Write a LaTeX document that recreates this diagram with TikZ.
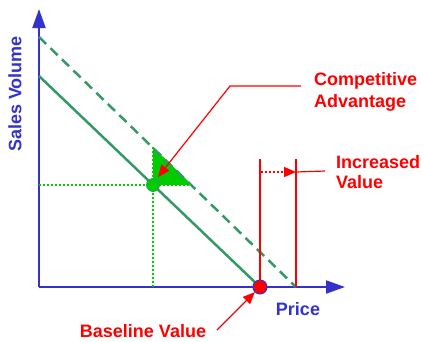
\documentclass[tikz,border=0pt]{standalone}
\usepackage{fontspec}
\setmainfont{Liberation Sans}
\usetikzlibrary{arrows.meta}
\definecolor{axisblue}{HTML}{3333CC}
\definecolor{linegreen}{HTML}{339966}
\definecolor{brightgreen}{HTML}{00CC00}
\definecolor{markred}{HTML}{FF0000}
\begin{document}
\begin{tikzpicture}[x=1pt,y=-1pt,
  axis/.style={draw=axisblue,line width=2pt,-{Triangle[length=19pt,width=13pt]}},
  demand/.style={draw=linegreen,line width=2.5pt},
  guide/.style={draw=brightgreen,line width=1.5pt,dash pattern=on 2pt off 2pt},
  redline/.style={draw=markred,line width=1.4pt},
  redarrow/.style={draw=markred,line width=1.4pt,-{Triangle[length=12pt,width=10pt]}},
  lbl/.style={font=\bfseries\fontsize{18}{22}\selectfont,inner sep=0pt}]
\useasboundingbox (0,0) rectangle (423,341);

% axes
\coordinate (O) at (39,287);
\coordinate (ytop) at (39,9);
\coordinate (xend) at (345,287);
\draw[axis] (O) -- (ytop);
\draw[axis] (O) -- (xend);

% demand curves
\coordinate (s0) at (39,76);
\coordinate (d0) at (39,37);
\coordinate (d1) at (296,287);
\coordinate (tritop) at (153,147);
\coordinate (trirt) at (192,185);
\node[circle,inner sep=0pt,minimum size=14pt] (bdot) at (260,287) {};
\node[circle,inner sep=0pt,minimum size=13pt] (gdot) at (153,185) {};

% advantage triangle
\fill[brightgreen] (tritop) -- (gdot.center) -- (trirt) -- cycle;
\draw[guide] (tritop) -- (gdot.center) -- (trirt);

\draw[demand] (s0) -- (bdot.center);
\draw[demand,dash pattern=on 10pt off 6pt] (d0) -- (d1);

% guide lines to the axes
\coordinate (gy) at (39,185);
\coordinate (gx) at (153,287);
\draw[guide] (gy) -- (gdot.center);
\draw[guide] (gdot.center) -- (gx);

% price markers
\coordinate (v0) at (260,159);
\coordinate (v1) at (296,159);
\coordinate (w1) at (296,287);
\coordinate (a0) at (261,172);
\coordinate (a1) at (296,172);
\coordinate (lead) at (325,171);
\draw[redline] (v0) -- (bdot.center);
\draw[redline] (v1) -- (w1);
\draw[redarrow,dash pattern=on 2pt off 2pt] (a0) -- (a1);
\draw[redline,line width=1.2pt] (a1) -- (lead);

% points
\draw[linegreen,fill=brightgreen,line width=0.8pt] (gdot) circle (6.5pt);
\draw[axisblue,fill=markred,line width=1pt] (bdot) circle (7pt);

% labels
\node[lbl,text=axisblue,rotate=90] (ylab) at (15,94) {Sales Volume};
\node[lbl,text=axisblue,anchor=base] (xlab) at (298,315) {Price};
\node[lbl,text=markred,anchor=base] (base) at (143,337) {Baseline Value};
\node[lbl,text=markred,align=left,anchor=north west] (comp) at (314,72) {Competitive\\Advantage};
\node[lbl,text=markred,align=left,anchor=north west,font=\bfseries\fontsize{18}{20}\selectfont] (incr) at (336,155) {Increased\\Value};

% callouts
\coordinate (c0) at (301,86);
\coordinate (c1) at (230,86);
\coordinate (ctip) at (158,177);
\draw[redarrow,line width=1.2pt] (c0) -- (c1) -- (ctip);
\coordinate (b0) at (217,330);
\draw[redarrow,line width=1.2pt] (b0) -- (bdot);
\end{tikzpicture}
\end{document}
